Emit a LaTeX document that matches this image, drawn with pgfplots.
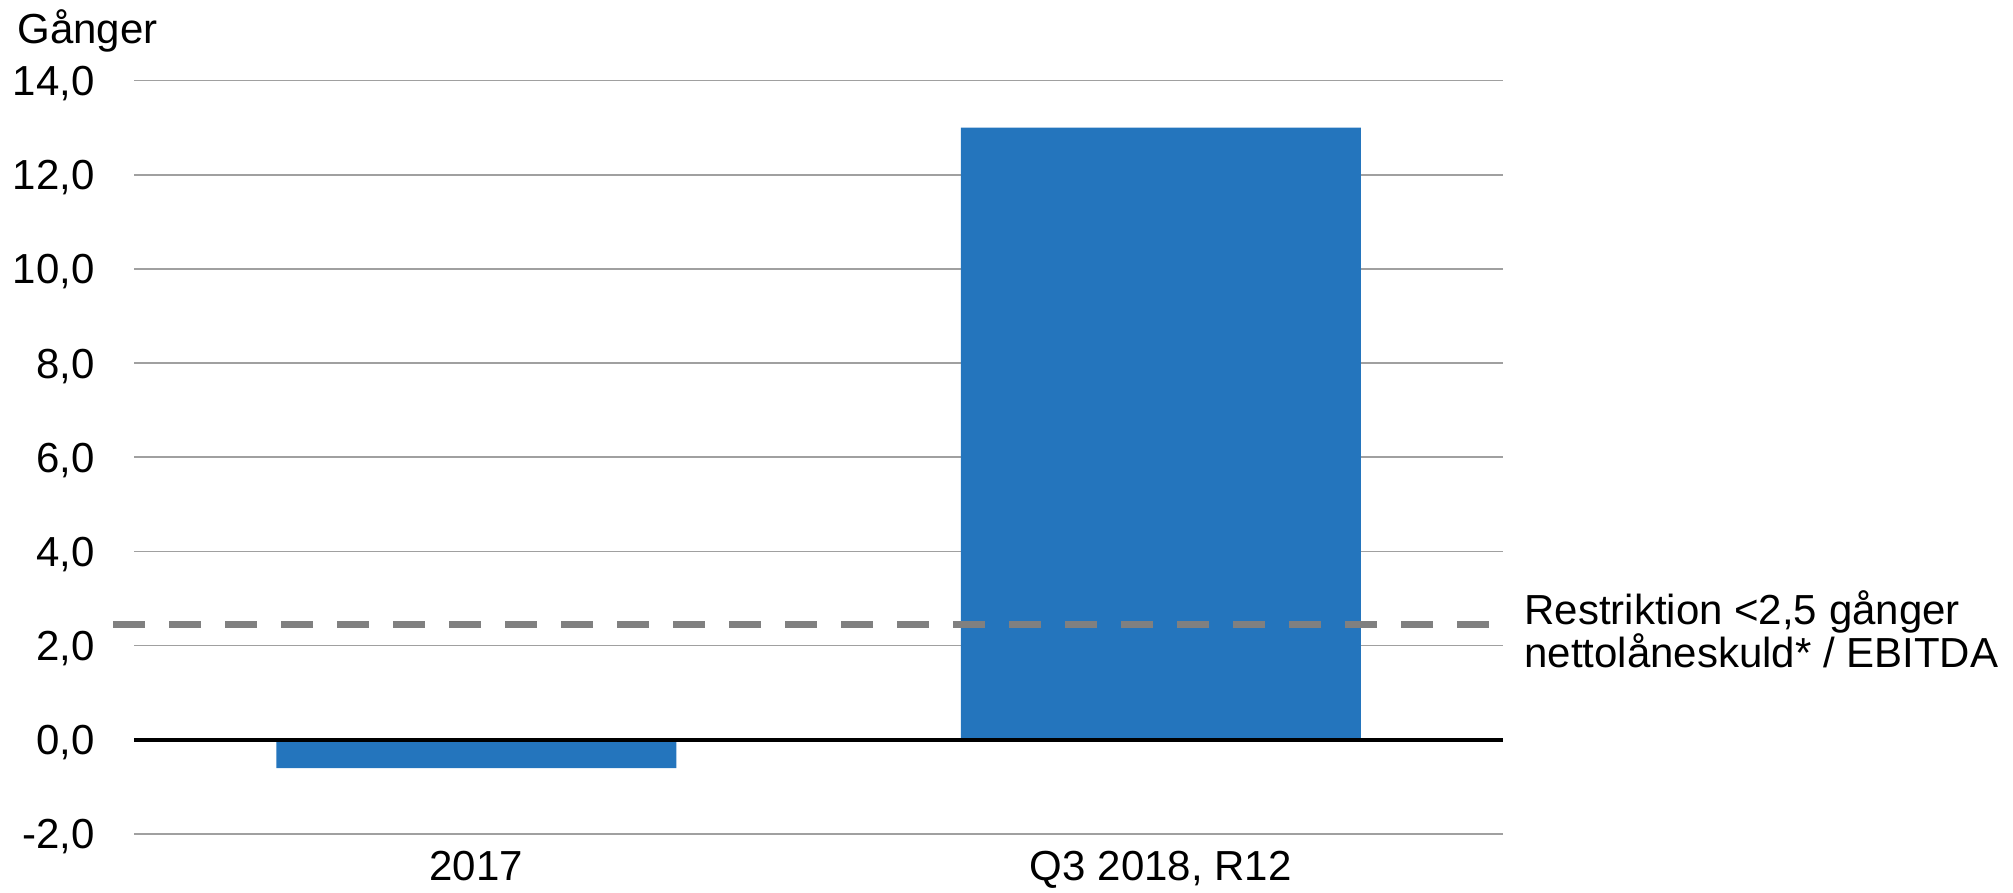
\documentclass[border=0pt]{standalone}
\usepackage{fontspec}
\setmainfont{Liberation Sans}
\usepackage{pgfplots}
\pgfplotsset{compat=1.18}
\definecolor{barblue}{RGB}{36,117,189}
\definecolor{gridgray}{RGB}{160,160,160}
\definecolor{dashgray}{RGB}{128,128,128}
\begin{document}
\fontsize{21pt}{25pt}\selectfont
\begin{tikzpicture}
\path[use as bounding box] (0,0) rectangle (1006.5pt,446.5pt);
\begin{axis}[
  at={(67pt,29.5pt)}, anchor=south west,
  scale only axis, width=684.5pt, height=376.75pt,
  xmin=-0.5, xmax=1.5, ymin=-2, ymax=14,
  clip=false,
  axis line style={draw=none},
  ytick={-2,0,2,4,6,8,10,12,14},
  yticklabels={{-2,0},{0,0},{2,0},{4,0},{6,0},{8,0},{10,0},{12,0},{14,0}},
  xtick={0,1},
  xticklabels={2017,{Q3 2018, R12}},
  major tick length=0pt,
  tick style={draw=none},
  ymajorgrids,
  grid style={gridgray, line width=0.85pt},
  yticklabel style={anchor=base east, inner sep=0pt, xshift=-19.5pt, yshift=-7.5pt},
  xticklabel style={anchor=base, inner sep=0pt, yshift=-23.5pt},
]
\addplot[ybar, fill=barblue, draw=none, bar width=200pt, bar shift=0pt] coordinates {(0,-0.6) (1,13.0)};
\addplot[black, line width=2pt] coordinates {(-0.5,0) (1.5,0)};
\addplot[dashgray, line width=3.7pt, dash pattern=on 16pt off 12pt] coordinates {(-0.53,2.45) (1.481,2.45)};
\end{axis}
\node[anchor=base west, inner sep=0pt] at (8.5pt,424.8pt) {Gånger};
\node[anchor=base west, inner sep=0pt] at (762pt,134.25pt) {Restriktion <2,5 gånger};
\node[anchor=base west, inner sep=0pt] at (762pt,112.75pt) {nettolåneskuld* / EBITDA};
\end{tikzpicture}
\end{document}
